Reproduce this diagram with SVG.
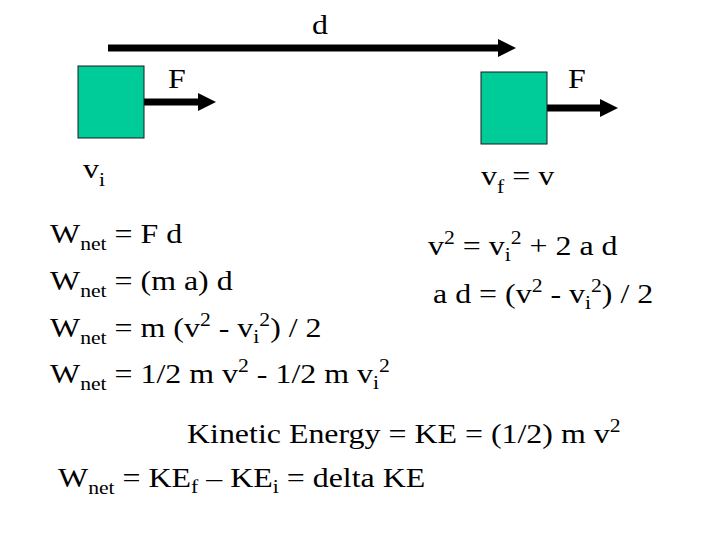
<svg xmlns="http://www.w3.org/2000/svg" width="720" height="540" viewBox="0 0 720 540">
<defs>
<style>
text{font-family:"Liberation Serif","Times New Roman",serif;font-size:28px;fill:#000}
.sub{font-size:19px}
.sup{font-size:19px}
.box{fill:#00CC99;stroke:#1a1a1a;stroke-width:1}
.arr{stroke:#000;stroke-width:7;fill:none}
</style>
<marker id="head" markerUnits="userSpaceOnUse" markerWidth="18" markerHeight="18" refX="0" refY="9" orient="auto" overflow="visible">
<path d="M0,0 L18,9 L0,18 Z" fill="#000"/>
</marker>
</defs>
<rect width="720" height="540" fill="#fff"/>
<g id="connectors">
<line class="arr" x1="108" y1="48" x2="498" y2="48" marker-end="url(#head)"/>
<line class="arr" x1="144" y1="102" x2="198" y2="102" marker-end="url(#head)"/>
<line class="arr" x1="547" y1="108" x2="600" y2="108" marker-end="url(#head)"/>
</g>
<g id="box-initial">
<rect class="box" x="78" y="66" width="66" height="72"/>
</g>
<g id="box-final">
<rect class="box" x="481" y="72" width="66" height="72"/>
</g>
<g id="labels">
<text transform="matrix(1.14 0 0 1 320 34)" text-anchor="middle">d</text>
<text transform="matrix(1.14 0 0 1 168 88)">F</text>
<text transform="matrix(1.14 0 0 1 568 88)">F</text>
<text transform="matrix(1.14 0 0 1 83 178)">v<tspan class="sub" dy="8">i</tspan></text>
<text transform="matrix(1.14 0 0 1 481 185)">v<tspan class="sub" dy="8">f</tspan><tspan dy="-8"> = v</tspan></text>
</g>
<g id="work-equations">
<text transform="matrix(1.14 0 0 1 50 243)">W<tspan class="sub" dy="7">net</tspan><tspan dy="-7"> = F d</tspan></text>
<text transform="matrix(1.14 0 0 1 50 290)">W<tspan class="sub" dy="7">net</tspan><tspan dy="-7"> = (m a) d</tspan></text>
<text transform="matrix(1.14 0 0 1 50 337)">W<tspan class="sub" dy="7">net</tspan><tspan dy="-7"> = m (v</tspan><tspan class="sup" dy="-11">2</tspan><tspan dy="11"> - v</tspan><tspan class="sub" dy="6">i</tspan><tspan class="sup" dy="-17">2</tspan><tspan dy="11">) / 2</tspan></text>
<text transform="matrix(1.14 0 0 1 50 383)">W<tspan class="sub" dy="7">net</tspan><tspan dy="-7"> = 1/2 m v</tspan><tspan class="sup" dy="-11">2</tspan><tspan dy="11"> - 1/2 m v</tspan><tspan class="sub" dy="6">i</tspan><tspan class="sup" dy="-17">2</tspan></text>
</g>
<g id="kinematics">
<text transform="matrix(1.14 0 0 1 428 255)">v<tspan class="sup" dy="-11">2</tspan><tspan dy="11"> = v</tspan><tspan class="sub" dy="6">i</tspan><tspan class="sup" dy="-17">2</tspan><tspan dy="11"> + 2 a d</tspan></text>
<text transform="matrix(1.14 0 0 1 433 303)">a d = (v<tspan class="sup" dy="-11">2</tspan><tspan dy="11"> - v</tspan><tspan class="sub" dy="6">i</tspan><tspan class="sup" dy="-17">2</tspan><tspan dy="11">) / 2</tspan></text>
</g>
<g id="kinetic-energy">
<text transform="matrix(1.14 0 0 1 187 443)">Kinetic Energy = KE = (1/2) m v<tspan class="sup" dy="-11">2</tspan></text>
<text transform="matrix(1.14 0 0 1 58 487)">W<tspan class="sub" dy="7">net</tspan><tspan dy="-7"> = KE</tspan><tspan class="sub" dy="6">f</tspan><tspan dy="-6"> – KE</tspan><tspan class="sub" dy="6">i</tspan><tspan dy="-6"> = delta KE</tspan></text>
</g>
</svg>
